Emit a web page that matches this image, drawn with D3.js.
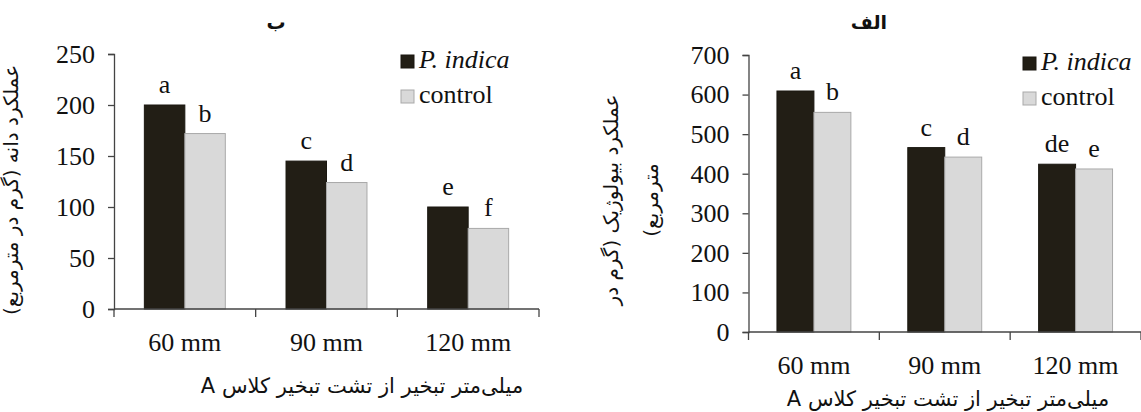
<!DOCTYPE html>
<meta charset="utf-8">
<script src="https://d3js.org/d3.v7.min.js"></script>
<style>
  html, body { margin: 0; padding: 0; background: #fff; }
</style>
<body>
<div id="chart"></div>
<script>

// categories and series
var categories = ["60 mm", "90 mm", "120 mm"];
var seriesNames = ["P. indica", "control"];

// grain yield (panel ب)
var grainIndica = [200, 145, 100];
var grainControl = [172, 124, 79];
var grainIndicaLetters = ["a", "c", "e"];
var grainControlLetters = ["b", "d", "f"];
var grainTicks = [0, 50, 100, 150, 200, 250];

// biological yield (panel الف)
var bioIndica = [609, 466, 424];
var bioControl = [555, 442, 412];
var bioIndicaLetters = ["a", "c", "de"];
var bioControlLetters = ["b", "d", "e"];
var bioTicks = [0, 100, 200, 300, 400, 500, 600, 700];

var xTitle = "میلی‌متر تبخیر از تشت تبخیر کلاس A";

var width = 1141,
    height = 412;

var serif = "'Liberation Serif', 'Times New Roman', Times, 'DejaVu Serif', serif";
var farsi = "'DejaVu Sans', sans-serif";

var colors = { "P. indica": "#221e15", "control": "#d9d9d9" };
var strokes = { "P. indica": "#1a1710", "control": "#a9a9a9" };

var svg = d3.select("#chart")
  .append("svg")
    .attr("width", width)
    .attr("height", height);

function serifText(sel, size) {
  return sel
    .style("font-family", serif)
    .style("font-size", size + "px")
    .attr("fill", "#111");
}

function farsiText(sel, size) {
  return sel
    .style("font-family", farsi)
    .style("font-size", size + "px")
    .style("direction", "rtl")
    .style("unicode-bidi", "embed")
    .attr("fill", "#111");
}

function drawPanel(p) {
  var g = svg.append("g");

  var y = d3.scaleLinear()
    .domain([0, d3.max(p.ticks)])
    .range([p.y0, p.y1]);

  var x0 = d3.scaleBand()
    .domain(categories)
    .range([p.x0, p.x1]);

  var x1 = d3.scaleBand()
    .domain(seriesNames)
    .range([0, x0.bandwidth()])
    .paddingOuter(p.outer);

  var rows = categories.map(function(c, i) {
    return {
      cat: c,
      vals: [
        { key: "P. indica", value: p.indica[i], letter: p.indicaLetters[i] },
        { key: "control", value: p.control[i], letter: p.controlLetters[i] }
      ]
    };
  });

  // bars
  var groups = g.selectAll("g.cat")
    .data(rows)
    .enter()
    .append("g")
      .attr("transform", function(d) { return "translate(" + x0(d.cat) + ",0)"; });

  groups.selectAll("rect")
    .data(function(d) { return d.vals; })
    .enter()
    .append("rect")
      .attr("x", function(d) { return x1(d.key); })
      .attr("y", function(d) { return y(d.value); })
      .attr("width", x1.bandwidth())
      .attr("height", function(d) { return y(0) - y(d.value); })
      .attr("fill", function(d) { return colors[d.key]; })
      .attr("stroke", function(d) { return strokes[d.key]; })
      .attr("stroke-width", 1);

  // significance letters
  groups.selectAll("text")
    .data(function(d) { return d.vals; })
    .enter()
    .append("text")
      .attr("x", function(d) { return x1(d.key) + x1.bandwidth() / 2; })
      .attr("y", function(d) { return y(d.value) - 12; })
      .attr("text-anchor", "middle")
      .call(serifText, 26)
      .text(function(d) { return d.letter; });

  // y axis
  var yAxis = g.append("g")
    .attr("transform", "translate(" + p.x0 + ",0)")
    .call(d3.axisLeft(y).tickValues(p.ticks).tickSize(6).tickPadding(13));
  yAxis.attr("font-family", null).attr("font-size", null);
  yAxis.select(".domain").attr("stroke", "#444").attr("stroke-width", 1.3);
  yAxis.selectAll(".tick line").attr("stroke", "#444").attr("stroke-width", 1.3);
  yAxis.selectAll(".tick text").call(serifText, 26);

  // x axis: line with ticks on category boundaries
  var edges = categories.map(function(c) { return x0(c); }).concat([p.x1]);
  g.append("line")
    .attr("x1", p.x0).attr("x2", p.x1)
    .attr("y1", y(0)).attr("y2", y(0))
    .attr("stroke", "#444").attr("stroke-width", 1.5);
  g.selectAll("line.edge")
    .data(edges)
    .enter()
    .append("line")
      .attr("x1", function(d) { return d; })
      .attr("x2", function(d) { return d; })
      .attr("y1", y(0))
      .attr("y2", y(0) + 8)
      .attr("stroke", "#444").attr("stroke-width", 1.3);

  g.selectAll("text.cat")
    .data(categories)
    .enter()
    .append("text")
      .attr("x", function(d) { return x0(d) + x0.bandwidth() / 2; })
      .attr("y", y(0) + 42)
      .attr("text-anchor", "middle")
      .call(serifText, 26)
      .text(function(d) { return d; });

  // x axis title
  g.append("text")
    .attr("x", p.xTitleX)
    .attr("y", p.xTitleY)
    .attr("text-anchor", "middle")
    .call(farsiText, 21)
    .text(xTitle);

  // y axis title lines
  p.yTitle.forEach(function(t, i) {
    g.append("text")
      .attr("transform", "translate(" + p.yTitleX[i] + "," + p.yTitleY + ") rotate(-90)")
      .attr("text-anchor", "middle")
      .call(farsiText, 20)
      .text(t);
  });

  // panel label
  g.append("text")
    .attr("x", p.labelX)
    .attr("y", 29)
    .attr("text-anchor", "middle")
    .call(farsiText, 19)
    .style("font-weight", "bold")
    .text(p.label);

  // legend
  var leg = g.selectAll("g.leg")
    .data(seriesNames)
    .enter()
    .append("g")
      .attr("transform", function(d, i) { return "translate(" + p.legX + "," + (p.legY + i * 35) + ")"; });
  leg.append("rect")
    .attr("x", 0).attr("y", -13)
    .attr("width", 13).attr("height", 13)
    .attr("fill", function(d) { return colors[d]; })
    .attr("stroke", function(d) { return strokes[d]; });
  leg.append("text")
    .attr("x", 18)
    .attr("y", 0)
    .call(serifText, 26)
    .style("font-style", function(d) { return d === "P. indica" ? "italic" : "normal"; })
    .text(function(d) { return d; });
}

drawPanel({
  label: "ب",
  labelX: 276,
  ticks: grainTicks,
  indica: grainIndica, control: grainControl,
  indicaLetters: grainIndicaLetters, controlLetters: grainControlLetters,
  x0: 114, x1: 539, y0: 309, y1: 54, outer: 0.75,
  xTitleX: 362, xTitleY: 393,
  yTitle: ["عملکرد دانه (گرم در مترمربع)"], yTitleX: [18], yTitleY: 190,
  legX: 401, legY: 68
});

drawPanel({
  label: "الف",
  labelX: 869,
  ticks: bioTicks,
  indica: bioIndica, control: bioControl,
  indicaLetters: bioIndicaLetters, controlLetters: bioControlLetters,
  x0: 748.5, x1: 1141, y0: 332, y1: 55, outer: 0.77,
  xTitleX: 948, xTitleY: 406,
  yTitle: ["عملکرد بیولوژیک (گرم در", "مترمربع)"], yTitleX: [618, 658], yTitleY: 200,
  legX: 1023, legY: 70
});

</script>
</body>
